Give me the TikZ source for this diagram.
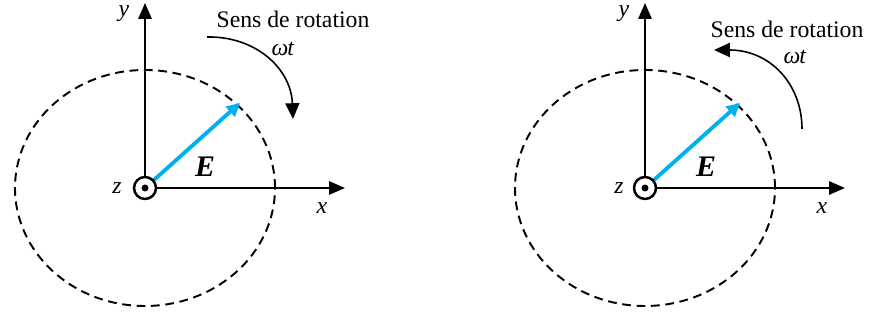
\documentclass[tikz,border=0pt]{standalone}
\usepackage{fontspec}
\setmainfont{Liberation Serif}
\usetikzlibrary{arrows.meta}
\definecolor{FieldBlue}{RGB}{0, 176, 240}

\begin{document}
\begin{tikzpicture}[x=0.02cm, y=0.02cm, font=\fontsize{13.5}{15}\selectfont,
    axis/.style={line width=1.1pt, -{Triangle[length=9pt, width=7.5pt]}},
    orbit/.style={line width=1.1pt, dash pattern=on 5pt off 3.2pt},
    field/.style={line width=2.2pt, FieldBlue, -{Triangle[length=7.5pt, width=7.5pt]}},
    turn/.style={line width=0.9pt, -{Triangle[length=9pt, width=8pt]}},
    big/.style={font=\fontsize{17}{19}\selectfont}]
  \useasboundingbox (0,0) rectangle (869,320);
  % left picture, clockwise
  \coordinate (O1) at (145,132);
  \coordinate (X1) at (345,132);
  \coordinate (Y1) at (145,317);
  \coordinate (E1) at (240,217);
  \draw[orbit] (O1) ellipse [x radius=130, y radius=118];
  \draw[axis] (O1) -- (X1);
  \draw[axis] (O1) -- (Y1);
  \draw[field] (O1) -- (E1);
  \draw[line width=1.4pt, fill=white] (O1) circle (11);
  \fill (O1) circle (3.5);
  \node (z1) at (117,132) {\textit{z}};
  \node (x1) at (322,112) {\textit{x}};
  \node (y1) at (124,306) {\textit{y}};
  \node[big] (lE1) at (205,153) {\textbf{\textit{E}}};
  \node (s1) at (293,301) {Sens de rotation};
  \node (w1) at (283,271) {\textit{ω}\kern-0.5pt\textit{t}};
  \coordinate (a1) at (207,283);
  \coordinate (b1) at (293,201);
  \draw[turn] (a1) .. controls (255,284) and (291,252) .. (b1);
  % right picture, anticlockwise
  \coordinate (O2) at (645,132);
  \coordinate (X2) at (845,132);
  \coordinate (Y2) at (645,317);
  \coordinate (E2) at (740,217);
  \draw[orbit] (O2) ellipse [x radius=130, y radius=118];
  \draw[axis] (O2) -- (X2);
  \draw[axis] (O2) -- (Y2);
  \draw[field] (O2) -- (E2);
  \draw[line width=1.4pt, fill=white] (O2) circle (11);
  \fill (O2) circle (3.5);
  \node (z2) at (619,132) {\textit{z}};
  \node (x2) at (822,112) {\textit{x}};
  \node (y2) at (624,306) {\textit{y}};
  \node[big] (lE2) at (706,153) {\textbf{\textit{E}}};
  \node (s2) at (787,291) {Sens de rotation};
  \node (w2) at (795,263) {\textit{ω}\kern-0.5pt\textit{t}};
  \coordinate (a2) at (802,191);
  \coordinate (b2) at (714,270);
  \draw[turn] (a2) .. controls (802,236) and (770,270) .. (b2);
\end{tikzpicture}
\end{document}
